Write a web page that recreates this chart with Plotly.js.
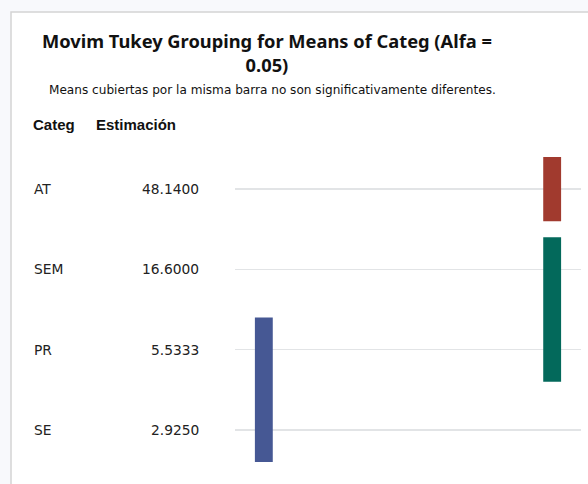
<!DOCTYPE html>
<html>
<head>
<meta charset="utf-8">
<script src="https://cdn.plot.ly/plotly-3.0.1.min.js"></script>
<style>
  html, body { margin: 0; padding: 0; background: #f8f9fc; }
  #chart { width: 588px; height: 484px; }
</style>
</head>
<body>
<div id="chart"></div>
<script>
// Level names and their estimated means, listed from top row to bottom row
const categ = ["AT", "SEM", "PR", "SE"];
const estimacion = [48.14, 16.6, 5.5333, 2.925];

// Tukey groups: levels joined by the same bar do not differ significantly
const groupMembers = [["AT"], ["SEM", "PR"], ["PR", "SE"]];
const groupColumn = [1, 1, 0];
const groupColors = ["#a13a2e", "#03695b", "#465894"];

// page geometry (pixels)
const W = 588, H = 484;
const plotLeft = 235, plotRight = 581, plotTop = 141, plotBottom = 478;
const plotW = plotRight - plotLeft, plotH = plotBottom - plotTop;
const px = v => (v - plotLeft) / plotW;
const py = v => (plotBottom - v) / plotH;

const nRows = categ.length;
const rowY = name => nRows - 1 - categ.indexOf(name);
const pad = 0.4;

const traces = groupMembers.map((members, g) => {
  const ys = members.map(rowY);
  const lo = Math.min(...ys) - pad;
  const hi = Math.max(...ys) + pad;
  return {
    type: "bar",
    x: [1 + groupColumn[g] * 10],
    y: [hi - lo],
    base: [lo],
    width: 0.62,
    marker: { color: groupColors[g], line: { width: 0 } },
    hoverinfo: "skip",
    showlegend: false
  };
});

const textFont = { family: "DejaVu Sans, sans-serif", size: 13.8, color: "#222" };
const headFont = { family: "Liberation Sans, Arial, sans-serif", size: 15, color: "#111", weight: "bold" };
const annotations = [];

// title, two lines
annotations.push({
  xref: "paper", yref: "paper", x: px(267), y: py(26), xanchor: "center", yanchor: "top",
  text: "Movim Tukey Grouping for Means of Categ (Alfa =<br>0.05)", showarrow: false,
  font: { family: "Noto Sans, sans-serif", size: 18.3, color: "#111", weight: "bold" }
});

// subtitle
annotations.push({
  xref: "paper", yref: "paper", x: px(272), y: py(90), xanchor: "center", yanchor: "middle",
  text: "Means cubiertas por la misma barra no son significativamente diferentes.",
  showarrow: false,
  font: { family: "DejaVu Sans, sans-serif", size: 12.1, color: "#111" }
});

// column headers
annotations.push({
  xref: "paper", yref: "paper", x: px(31), y: py(135), xanchor: "left", yanchor: "bottom",
  text: "Categ", showarrow: false, font: headFont
});
annotations.push({
  xref: "paper", yref: "paper", x: px(94), y: py(135), xanchor: "left", yanchor: "bottom",
  text: "Estimación", showarrow: false, font: headFont
});

// table rows: level name and estimate
categ.forEach((c, i) => {
  annotations.push({
    xref: "paper", yref: "y", x: px(32), y: rowY(c), xanchor: "left", yanchor: "middle",
    text: c, showarrow: false, font: textFont
  });
  annotations.push({
    xref: "paper", yref: "y", x: px(201), y: rowY(c), xanchor: "right", yanchor: "middle",
    text: estimacion[i].toFixed(4), showarrow: false, font: textFont
  });
});

const layout = {
  width: W, height: H,
  margin: { l: plotLeft, r: W - plotRight, t: plotTop, b: H - plotBottom, pad: 0 },
  paper_bgcolor: "#f8f9fc",
  plot_bgcolor: "rgba(0,0,0,0)",
  barmode: "overlay",
  xaxis: { range: [0, 12], visible: false, fixedrange: true },
  yaxis: {
    range: [-0.6, 3.6], tickvals: [0, 1, 2, 3], showticklabels: false,
    showgrid: true, gridcolor: "#e2e4e6", gridwidth: 1.5,
    zeroline: false, showline: false, ticks: "", fixedrange: true
  },
  shapes: [{
    type: "rect", xref: "paper", yref: "paper", layer: "below",
    x0: px(11), x1: px(W + 5), y0: py(12), y1: py(H + 5),
    fillcolor: "#ffffff", line: { color: "#d4d4d4", width: 1.5 }
  }],
  annotations: annotations
};

Plotly.newPlot("chart", traces, layout, { staticPlot: true, displayModeBar: false });
</script>
</body>
</html>
